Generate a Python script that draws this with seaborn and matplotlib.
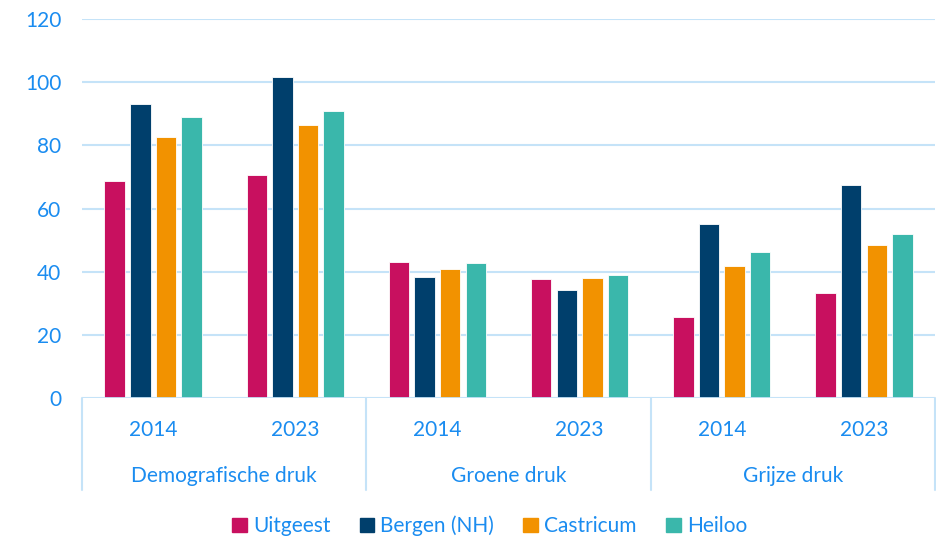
import matplotlib
matplotlib.use("Agg")
import matplotlib.pyplot as plt
import matplotlib.transforms as mtrans
import pandas as pd
import seaborn as sns

groups = ["Demografische druk", "Groene druk", "Grijze druk"]
years = ["2014", "2023"]
cities = ["Uitgeest", "Bergen (NH)", "Castricum", "Heiloo"]
uitgeest = [68.7, 70.6, 43.1, 37.7, 25.6, 33.2]
bergen = [93.1, 101.6, 38.3, 34.2, 55.1, 67.4]
castricum = [82.6, 86.4, 40.8, 38.0, 41.8, 48.4]
heiloo = [89.0, 90.9, 42.7, 38.9, 46.2, 51.9]

colors = ["#C8105F", "#003F6C", "#F29200", "#3AB7AB"]
txt = "#1A8CF0"
line_c = "#C5E3F8"

keys = [f"{g} {y}" for g in groups for y in years]
rows = []
for city, vals in zip(cities, [uitgeest, bergen, castricum, heiloo]):
    for k, v in zip(keys, vals):
        rows.append({"cat": k, "city": city, "value": v})
df = pd.DataFrame(rows)

sns.set_style("white")
plt.rcParams["font.family"] = ["Lato", "DejaVu Sans"]

fig = plt.figure(figsize=(9.36, 5.38), dpi=100)
ax = fig.add_axes([0.0876, 0.2602, 0.9114, 0.7045])
sns.barplot(data=df, x="cat", y="value", hue="city", order=keys, hue_order=cities,
            palette=colors, saturation=1, width=0.72, gap=0.2, ax=ax, legend=False,
            edgecolor="white", linewidth=0.6)

ax.set_ylim(0, 120)
ax.set_xlim(-0.5, 5.5)
ax.set_yticks(range(0, 121, 20))
ax.yaxis.grid(True, color=line_c, linewidth=1.5)
ax.set_axisbelow(True)
for s in ax.spines.values():
    s.set_visible(False)
ax.axhline(0, color=line_c, linewidth=2, zorder=5)
ax.set_xlabel("")
ax.set_ylabel("")
ax.tick_params(axis="y", length=0, labelsize=15, labelcolor=txt, pad=15)
ax.set_xticks([])

trans = mtrans.blended_transform_factory(ax.transData, ax.transAxes)
for xs in [-0.5, 1.5, 3.5, 5.5]:
    ax.plot([xs, xs], [0, -0.243], color=line_c, linewidth=1.5, transform=trans, clip_on=False)
for i, k in enumerate(keys):
    ax.text(i, -0.085, k.split()[-1], transform=trans, ha="center", va="center",
            fontsize=15, color=txt)
for j, g in enumerate(groups):
    ax.text(2 * j + 0.5, -0.205, g, transform=trans, ha="center", va="center",
            fontsize=15, color=txt)

handles = [plt.Rectangle((0, 0), 1, 1, color=c) for c in colors]
fig.legend(handles, cities, loc="center", bbox_to_anchor=(0.523, 0.022), ncol=4,
           frameon=False, fontsize=15, labelcolor=txt, handlelength=0.7,
           handleheight=0.7, handletextpad=0.3, columnspacing=1.4)

fig.savefig("out.png", dpi=100)
